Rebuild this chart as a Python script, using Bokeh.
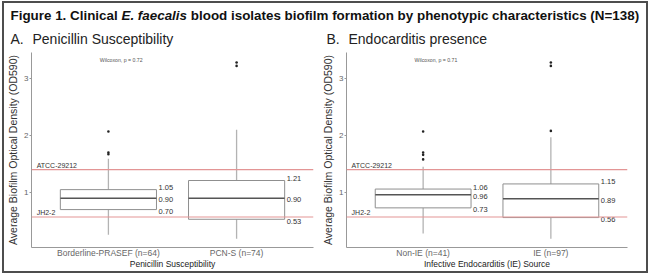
from bokeh.plotting import figure
from bokeh.layouts import column, row
from bokeh.models import Range1d, Span, ColumnDataSource
from bokeh.core.properties import value
from bokeh.embed import file_html
from bokeh.resources import INLINE

FONT = "Liberation Sans"

# ---------------- data ----------------
pen_cats = ["Borderline-PRASEF (n=64)", "PCN-S (n=74)"]
pen_q1 = [0.70, 0.53]
pen_med = [0.90, 0.90]
pen_q3 = [1.05, 1.21]
pen_wlo = [0.26, 0.19]
pen_whi = [1.59, 2.10]
pen_out_cat = [0, 0, 0, 1, 1]
pen_out_val = [2.07, 1.70, 1.67, 3.22, 3.28]
pen_p = "Wilcoxon, p = 0.72"

ie_cats = ["Non-IE (n=41)", "IE (n=97)"]
ie_q1 = [0.73, 0.56]
ie_med = [0.96, 0.89]
ie_q3 = [1.06, 1.15]
ie_wlo = [0.28, 0.19]
ie_whi = [1.45, 1.97]
ie_out_cat = [0, 0, 0, 0, 1, 1, 1]
ie_out_val = [2.07, 1.70, 1.66, 1.58, 2.08, 3.22, 3.28]
ie_p = "Wilcoxon, p = 0.71"

ref_names = ["ATCC-29212", "JH2-2"]
ref_vals = [1.40, 0.57]

y_ticks = [1, 2, 3]
y_label = "Average Biofilm Optical Density (OD590)"


def panel(cats, q1, med, q3, wlo, whi, out_cat, out_val, ptext, xtitle,
          width, left, right):
    p = figure(width=width, height=223, output_backend="svg", toolbar_location=None,
               x_range=Range1d(0.4, 2.6), y_range=Range1d(0.035, 3.455),
               min_border_left=left, min_border_right=right,
               min_border_top=4, min_border_bottom=18)
    p.outline_line_color = None
    p.xgrid.visible = False
    p.ygrid.visible = False
    p.background_fill_color = "white"
    p.border_fill_color = "white"

    xs = [i + 1 for i in range(len(cats))]
    src = ColumnDataSource(dict(x=xs, q1=q1, med=med, q3=q3, wlo=wlo, whi=whi,
                                lq1=["%.2f" % v for v in q1],
                                lmed=["%.2f" % v for v in med],
                                lq3=["%.2f" % v for v in q3],
                                xl=[x - 0.375 for x in xs],
                                xr=[x + 0.375 for x in xs]))

    # reference lines
    for v in ref_vals:
        p.add_layout(Span(location=v, dimension="width", line_color="#e39595",
                          line_width=1.2))
    p.text(x=[0.44] * len(ref_names), y=ref_vals, text=ref_names,
           text_font=value(FONT), text_font_size="7px", text_color="#333333",
           text_baseline="bottom", text_align="left", y_offset=-1)

    # whiskers
    p.segment(x0="x", y0="q3", x1="x", y1="whi", source=src,
              line_color="#b3b3b3", line_width=1.3)
    p.segment(x0="x", y0="q1", x1="x", y1="wlo", source=src,
              line_color="#b3b3b3", line_width=1.3)
    # boxes
    p.vbar(x="x", width=0.75, bottom="q1", top="q3", source=src,
           fill_color="white", line_color="#8f8f8f", line_width=1)
    # medians
    p.segment(x0="xl", y0="med", x1="xr", y1="med", source=src,
              line_color="#555555", line_width=1.4)

    # outliers
    p.scatter(x=[c + 1 for c in out_cat], y=out_val, size=2.6,
              fill_color="#222222", line_color=None)

    # value labels
    for col, ycol, dy in [("lq3", "q3", -2), ("lmed", "med", 1.5), ("lq1", "q1", 2)]:
        p.text(x="xr", y=ycol, text=col, source=src, x_offset=2, y_offset=dy,
               text_font=value(FONT), text_font_size="7.5px", text_color="#333333",
               text_baseline="middle", text_align="left")

    # wilcoxon
    p.text(x=[1.1], y=[3.33], text=[ptext], text_font=value(FONT),
           text_font_size="5.2px", text_color="#555555",
           text_align="center", text_baseline="middle")

    # axes
    p.yaxis.ticker = y_ticks
    p.yaxis.axis_label = y_label
    p.yaxis.axis_label_text_font = FONT
    p.yaxis.axis_label_text_font_size = "10.5px"
    p.yaxis.axis_label_text_font_style = "normal"
    p.yaxis.axis_label_text_color = "#333333"
    p.yaxis.axis_label_standoff = 2
    p.yaxis.major_label_text_font = FONT
    p.yaxis.major_label_text_font_size = "8px"
    p.yaxis.major_label_text_color = "#666666"
    p.yaxis.major_label_standoff = 1
    p.yaxis.axis_line_color = "#999999"
    p.yaxis.major_tick_line_color = "#999999"
    p.yaxis.major_tick_out = 2
    p.yaxis.major_tick_in = 0
    p.yaxis.minor_tick_line_color = None

    p.xaxis.ticker = xs
    p.xaxis.major_label_overrides = {x: c for x, c in zip(xs, cats)}
    p.xaxis.axis_label = xtitle
    p.xaxis.axis_label_text_font = FONT
    p.xaxis.axis_label_text_font_size = "8.5px"
    p.xaxis.axis_label_text_font_style = "normal"
    p.xaxis.axis_label_text_color = "#222222"
    p.xaxis.axis_label_standoff = -2
    p.xaxis.major_label_text_font = FONT
    p.xaxis.major_label_text_font_size = "8.5px"
    p.xaxis.major_label_text_color = "#666666"
    p.xaxis.major_label_standoff = 0
    p.xaxis.major_tick_out = 0
    p.xaxis.major_tick_in = 0
    p.xaxis.axis_line_color = "#999999"
    p.xaxis.major_tick_line_color = None
    p.xaxis.minor_tick_line_color = None
    return p


pA = panel(pen_cats, pen_q1, pen_med, pen_q3, pen_wlo, pen_whi, pen_out_cat,
           pen_out_val, pen_p, "Penicillin Susceptibility", 315, 22, 6)
pB = panel(ie_cats, ie_q1, ie_med, ie_q3, ie_wlo, ie_whi, ie_out_cat,
           ie_out_val, ie_p, "Infective Endocarditis (IE) Source", 327, 22, 19)

# ---------------- header ----------------
title_parts = ["Figure 1. Clinical", "E. faecalis",
               "blood isolates biofilm formation by phenotypic characteristics (N=138)"]
title_styles = ["bold", "bold italic", "bold"]
title_x = [6, 117, 186.3]
sub_letters = ["A.", "B."]
sub_texts = ["Penicillin Susceptibility", "Endocarditis presence"]
sub_x = [6, 322]
sub_tx = [28, 344]

h = figure(width=642, height=45, output_backend="svg", toolbar_location=None,
           x_range=Range1d(0, 642), y_range=Range1d(0, 45),
           min_border=0, x_axis_location=None, y_axis_location=None)
h.outline_line_color = None
h.xgrid.visible = False
h.ygrid.visible = False
for t, s, x in zip(title_parts, title_styles, title_x):
    h.text(x=[x], y=[33], text=[t], text_font=value(FONT), text_font_size="13.4px",
           text_font_style=s, text_color="#111111", text_baseline="middle",
           text_align="left")
h.text(x=sub_x, y=[10, 10], text=sub_letters, text_font=value(FONT),
       text_font_size="14px", text_color="#222222", text_baseline="middle",
       text_align="left")
h.text(x=sub_tx, y=[10, 10], text=sub_texts, text_font=value(FONT),
       text_font_size="14px", text_color="#222222", text_baseline="middle",
       text_align="left")

layout = column(h, row(pA, pB, spacing=0), spacing=0,
                styles={"border": "2px solid #4d4d4d", "margin": "1px 2px 0px 2px"})

open("out.html", "w").write(file_html(layout, INLINE))
